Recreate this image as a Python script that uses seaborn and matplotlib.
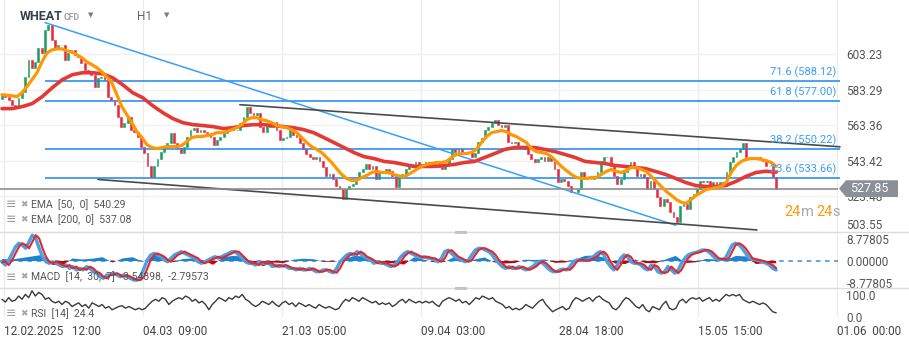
import numpy as np
import matplotlib
matplotlib.use("Agg")
import matplotlib.pyplot as plt
import matplotlib.transforms as mtrans
from matplotlib.patches import Polygon, Rectangle
from matplotlib.lines import Line2D
import seaborn as sns

sns.set_theme(style="white")
plt.rcParams['font.family'] = ['Roboto', 'DejaVu Sans']

# ---------------- data ----------------
close = [
    580.5, 579.4, 577.7, 574.9, 573.8, 578.8, 582.2, 590.5, 600.0, 595.6, 598.9, 606.7, 603.9, 616.8, 619.6,
    611.2, 606.7, 608.4, 608.4, 600.0, 603.9, 605.6, 602.8, 601.7, 598.4, 594.5, 593.3, 591.7, 585.0, 590.0,
    590.5, 588.9, 579.4, 577.7, 574.9, 568.2, 562.6, 564.8, 568.2, 560.9, 559.8, 557.0, 551.4, 548.1, 540.3,
    534.1, 540.3, 544.2, 548.6, 551.4, 553.7, 559.2, 553.7, 550.9, 548.1, 551.4, 557.0, 560.9, 562.0, 559.8,
    560.9,
    559.8, 559.2, 557.0, 552.5, 555.3, 557.0, 559.2, 562.6, 562.0, 560.9, 560.9, 564.8, 568.2, 573.8, 570.4,
    569.3, 570.4, 562.6, 559.8, 563.7, 562.6, 565.4, 560.9, 555.3, 556.5, 557.0, 562.0, 558.1, 557.0, 553.7,
    549.8, 547.0, 545.8, 544.2, 545.8, 543.1, 539.7, 534.7, 535.8, 533.0, 529.1, 527.4, 521.8, 527.4, 529.1,
    530.2, 533.0, 536.9, 538.6, 541.4, 538.6, 540.3, 533.0, 537.5, 536.9, 538.6, 537.5, 534.7, 528.5,
    534.1, 535.8, 538.6, 541.4, 540.3, 542.5, 539.7, 541.4, 542.5, 540.3, 542.5, 541.4, 539.7, 538.6, 541.4,
    544.2, 549.8, 548.6, 549.8, 548.6, 548.1, 548.6, 545.3, 548.1, 554.2, 556.5, 560.9, 562.6, 564.8, 566.5,
    563.7, 562.6, 563.7, 554.2, 553.7, 554.2, 550.9, 550.9, 549.8, 547.0, 544.2, 542.5, 544.2, 545.3, 543.1,
    545.8, 543.1, 538.6, 531.3, 533.0, 531.9, 529.1, 525.7, 525.7, 527.4, 536.9, 534.1, 533.0,
    533.0, 534.1, 536.9, 543.1, 545.8, 545.8, 540.3, 534.7, 530.2, 533.0, 536.9, 540.3, 542.5, 539.7, 534.7,
    535.8, 534.1, 527.4, 531.9, 527.4, 523.0, 517.9, 521.8, 520.2, 514.6, 511.8, 509.0, 517.9, 519.0, 516.2,
    523.0, 524.6, 527.4, 531.9, 531.3, 531.9, 529.1, 531.3, 530.2, 531.3, 529.1, 536.9, 542.5, 545.8, 548.6,
    549.8, 553.7, 545.8, 545.3, 544.2, 545.8, 544.2, 543.1, 540.3, 540.3, 534.1, 527.85,
]
first_open = 578.0

ema50 = [
    580.5, 580.2, 579.9, 579.4, 581.6, 585.0, 588.9, 592.8, 598.9, 603.9, 605.6, 606.2, 606.2, 605.1, 604.5,
    602.8, 601.2, 598.9, 597.3, 595.6, 593.3, 590.5, 587.2, 580.5, 573.8, 569.3, 564.8, 559.8, 556.5, 552.5,
    550.9, 550.3, 550.9, 551.4, 551.4, 551.4, 552.0, 554.2, 556.5, 557.0, 557.0, 557.6, 558.1, 559.2, 559.2,
    559.8, 560.9, 562.0, 563.7, 566.5, 567.6, 567.6, 566.5, 565.9, 564.8, 563.2, 562.6, 562.0, 560.9, 559.2,
    556.5, 553.7, 551.4, 549.8, 548.1, 545.3, 542.5, 539.1, 535.8, 533.6, 532.4, 532.4, 534.1, 535.2, 536.9,
    537.5, 536.9, 536.9, 536.3, 535.2, 534.7, 535.2, 536.9, 538.6, 540.3, 541.4, 541.9, 542.5, 542.5, 543.1,
    545.3, 547.0, 547.5, 547.5, 548.1, 549.8, 553.7, 557.0, 559.2, 559.8, 560.4, 559.8, 558.1, 557.0, 555.3,
    553.7, 550.3, 548.6, 548.1, 547.5, 545.8, 543.1, 540.3, 538.0, 535.8, 534.1, 533.6, 533.6, 534.1, 534.1,
    535.8, 537.5, 538.6, 537.5, 536.9, 538.0, 539.7, 539.7, 538.6, 537.5, 534.7, 531.9, 529.1, 526.3, 524.1,
    521.8, 520.2, 519.6, 521.8, 524.1, 525.7, 527.4, 527.9, 528.5, 529.1, 531.3, 536.9, 540.8, 543.1, 544.2,
    544.7, 544.7, 544.2, 543.6, 542.5, 540.29,
]

ema200 = [
    572.7, 572.7, 573.8, 575.5, 579.4, 584.4, 588.9, 591.7, 592.8, 592.8, 592.2, 590.0, 586.1, 581.6, 578.8,
    574.3, 570.4, 567.1, 564.8, 563.7, 563.2, 562.6, 561.5, 562.0, 563.2, 563.7, 563.7, 563.2, 562.6, 562.0,
    560.9, 559.2, 556.5, 553.7, 550.9, 548.1, 545.8, 544.7, 543.1, 542.5, 541.4, 540.3, 540.3, 540.3, 540.8,
    541.4, 542.5, 543.1, 545.3, 547.5, 549.8, 550.9, 550.9, 550.9, 549.8, 548.6, 547.0, 545.3, 543.1, 542.5,
    541.9, 540.8, 540.3, 539.7, 539.1, 537.5, 535.8, 533.6, 531.3, 529.6, 529.1, 529.1, 529.6, 531.9, 534.7,
    536.9, 537.6, 537.08,
]

macd_line = [
    -0.3, -1.6, 0.4, 3.0, 5.6, 7.0, 6.3, 5.0, 7.6, 10.2, 8.9, 5.0, 1.7, -0.3, -0.9, -0.3, -0.9, -1.6, -2.2, -1.6,
    -2.9, -2.2, -3.5, -2.9, -3.5, -2.2, -2.9, -4.2, -4.8, -6.2, -6.8, -5.5, -5.5, -4.8, -5.5, -6.2, -5.5, -6.2, -6.8, -7.5,
    -7.5, -6.2, -2.9, 0.4, 2.4, 3.0, 2.4, 1.7, 0.4, -0.3, 1.1, 2.4, 3.0, 3.7, 3.0, 2.4, 1.7, 1.1, -0.3, -0.9,
    -0.3, 0.4, 1.1, 1.7, 1.1, 1.7, 2.4, 3.0, 3.7, 3.7, 2.4, 1.1, -0.3, -0.9, -0.9, -1.6, -0.3, -0.9, -0.9, -0.9,
    -2.2, -1.6, -2.2, -1.6, -2.2, -2.9, -2.9, -3.5, -2.9, -3.5, -3.5, -2.9, -3.5, -4.2, -4.2, -3.5, -3.5, -4.2, -4.6, -2.9,
    -0.3, 1.1, 2.4, 3.0, 2.4, 3.7, 3.0, 1.7, 1.1, 0.4, -0.9, -0.3, -0.9, -0.9, -1.6, -2.2,
    -1.6, -0.3, 1.7, 3.0, 3.7, 3.0, 2.4, 1.7, 1.4, 1.7, 1.1, 1.1, 0.4, -0.3, 1.1, 3.7, 4.3, 3.0, 1.7, 1.1,
    0.4, -0.3, 0.4, 2.4, 4.3, 5.0, 5.0, 4.3, 3.7, 2.4, 0.4, -0.9, -2.2, -2.9, -2.2, -2.9, -2.9, -2.2, -2.9, -3.5,
    -2.9, -2.2, -0.9, -0.3, -0.9, -2.2, -3.5, -4.2, -4.2, -3.5, -3.2, -3.5, -2.2, -0.3, 0.4, 0.4, 0.1, 0.4, 1.1, 1.7,
    3.0, 3.7, 2.4, -0.3, -2.2, -3.5, -1.6, 1.1, 2.4, 1.7, -0.3, -0.9, -0.9, -1.6, -2.9, -3.5, -1.6, -2.2, -4.2, -4.8,
    -4.2, -2.2, -3.5, -4.8, -3.5, -0.9, 1.1, 2.4, 3.0, 3.3, 3.7, 4.3, 4.3, 3.7, 2.4, 1.1, 0.7, 0.7, 1.1, 3.7,
    6.3, 7.0, 6.3, 5.0, 3.0, 1.1, 0.7, 0.4, 0.1, -0.3, -0.9, -1.6, -2.9, -3.54,
]

macd_signal = [
    -0.5, -0.3, -1.6, 0.4, 3.0, 5.6, 7.0, 6.3, 5.0, 7.6, 10.2, 8.9, 5.0, 1.7, -0.3, -0.9, -0.3, -0.9, -1.6, -2.2,
    -1.6, -2.9, -2.2, -3.5, -2.9, -3.5, -2.2, -2.9, -4.2, -4.8, -6.2, -6.8, -5.5, -5.5, -4.8, -5.5, -6.2, -5.5, -6.2, -6.8,
    -7.5, -7.5, -6.2, -2.9, 0.4, 2.4, 3.0, 2.4, 1.7, 0.4, -0.3, 1.1, 2.4, 3.0, 3.7, 3.0, 2.4, 1.7, 1.1, -0.3,
    -0.9, -0.3, 0.4, 1.1, 1.7, 1.1, 1.7, 2.4, 3.0, 3.7, 3.7, 2.4, 1.1, -0.3, -0.9, -0.9, -1.6, -0.3, -0.9, -0.9,
    -0.9, -2.2, -1.6, -2.2, -1.6, -2.2, -2.9, -2.9, -3.5, -2.9, -3.5, -3.5, -2.9, -3.5, -4.2, -4.2, -3.5, -3.5, -4.2, -4.6,
    -2.9, -0.3, 1.1, 2.4, 3.0, 2.4, 3.7, 3.0, 1.7, 1.1, 0.4, -0.9, -0.3, -0.9, -0.9, -1.6,
    -2.2, -1.6, -0.3, 1.7, 3.0, 3.7, 3.0, 2.4, 1.7, 1.4, 1.7, 1.1, 1.1, 0.4, -0.3, 1.1, 3.7, 4.3, 3.0, 1.7,
    1.1, 0.4, -0.3, 0.4, 2.4, 4.3, 5.0, 5.0, 4.3, 3.7, 2.4, 0.4, -0.9, -2.2, -2.9, -2.2, -2.9, -2.9, -2.2, -2.9,
    -3.5, -2.9, -2.2, -0.9, -0.3, -0.9, -2.2, -3.5, -4.2, -4.2, -3.5, -3.2, -3.5, -2.2, -0.3, 0.4, 0.4, 0.1, 0.4, 1.1,
    1.7, 3.0, 3.7, 2.4, -0.3, -2.2, -3.5, -1.6, 1.1, 2.4, 1.7, -0.3, -0.9, -0.9, -1.6, -2.9, -3.5, -1.6, -2.2, -4.2,
    -4.8, -4.2, -2.2, -3.5, -4.8, -3.5, -0.9, 1.1, 2.4, 3.0, 3.3, 3.7, 4.3, 4.3, 3.7, 2.4, 1.1, 0.7, 0.7, 1.1,
    3.7, 6.3, 7.0, 6.3, 5.0, 3.0, 1.1, 0.7, 0.4, 0.1, -0.3, -0.9, -1.6, -2.80,
]

macd_hist = [
    0.8, 0.6, 1.2, 1.8, 2.4, -1.5, -1.8, 1.0, 0.6, 0.9, 1.5, -0.6, 1.0, 1.5, -0.3, 2.0, 2.3, -0.5, 0.8, 1.0,
    0.3, -1.5, 1.5, 2.0, 1.8, -0.8, -2.0, -0.6, -0.8, 0.5, 0.9, 0.7, -0.3, -0.3, 0.5, 2.0, 1.8, 0.5, -0.8, -0.9,
    -1.4, 1.5, 0.5, -0.5, -0.4, 1.6, -0.4, 0.6, 1.4, -0.6, -1.0, -0.8, 0.5, 0.4, 0.6, -0.7, -0.6, 0.6, 2.0, 2.2,
    1.2, -1.0, -1.2, 0.6, -0.8, -0.9, 0.6, 2.0, -0.8, -0.5, 0.8, 0.6, 0.3, 2.0, 1.8, -1.2, -0.8, -0.9,
]

rsi = [
    58, 51, 62, 53, 56, 66, 58, 70, 62, 79, 66, 75, 70, 58, 62, 53, 49, 53, 45, 53,
    49, 40, 45, 49, 40, 45, 36, 49, 45, 40, 45, 36, 40, 32, 36, 40, 42, 36, 40, 36,
    32, 36, 32, 36, 45, 53, 58, 53, 62, 58, 45, 53, 58, 62, 58, 66, 62, 53, 58, 49,
    53, 45, 32, 45, 53, 62, 58, 53, 62, 58, 66, 62, 70, 58, 53, 45, 40, 45, 53, 49,
    45, 53, 45, 40, 49, 53, 45, 49, 40, 49, 45, 40, 45, 40, 36, 45, 40, 36, 40, 36,
    32, 36, 49, 58, 53, 62, 58, 53, 62, 58, 53, 49, 53, 45, 49, 45, 49, 40, 45,
    53, 58, 49, 58, 53, 49, 53, 49, 53, 49, 53, 45, 40, 53, 58, 62, 58, 53, 58, 49,
    53, 45, 53, 62, 58, 66, 62, 58, 62, 53, 49, 45, 36, 40, 32, 36, 32, 36, 45, 40,
    36, 45, 53, 58, 45, 36, 27, 32, 36, 40, 32, 36, 53, 62, 58, 53, 58, 62, 53, 62,
    66, 58, 53, 49, 36, 32, 40, 53, 62, 58, 49, 40, 36, 45, 32, 27, 40, 36, 32, 45,
    53, 36, 32, 36, 53, 58, 49, 58, 62, 58, 62, 53, 58, 62, 53, 58, 53, 62, 70, 66,
    70, 66, 70, 58, 53, 49, 53, 49, 45, 49, 45, 36, 27, 24.4,
]

fib_levels = [588.12, 577.00, 550.22, 533.66]
fib_labels = ["71.6 (588.12)", "61.8 (577.00)", "38.2 (550.22)", "23.6 (533.66)"]
price_ticks = [603.23, 583.29, 563.36, 543.42, 523.48, 503.55]
macd_ticks = [8.77805, 0.0, -8.77805]
time_labels = ["12.02.2025   12:00", "04.03  09:00", "21.03  05:00", "09.04  03:00",
               "28.04  18:00", "15.05  15:00", "01.06  00:00"]
last_price = 527.85
ema50_last, ema200_last = 540.29, 537.08
macd_last = (-3.54398, -2.79573)
rsi_last = 24.4
# drawn trend lines: (bar index, price)
trend_blue = [(13.0, 620.9), (203.7, 507.3)]
channel_top = [(71.9, 574.9), (253.3, 551.3)]
channel_bottom = [(29.0, 533.0), (228.2, 504.7)]
fib_start_bar = 13.0

# ---------------- layout ----------------
W, H = 909, 346
fig = plt.figure(figsize=(W / 100, H / 100), dpi=100)
fig.patch.set_facecolor("white")


def rect(x0, y0, x1, y1):
    return [x0 / W, 1 - y1 / H, (x1 - x0) / W, (y1 - y0) / H]


ax = fig.add_axes(rect(0, 0, 838, 232))
axm = fig.add_axes(rect(0, 232, 838, 288), sharex=ax)
axr = fig.add_axes(rect(0, 288, 838, 317), sharex=ax)

N = len(close)
xb = np.arange(N)
bar_step = 41.97
tick_pos = 0.6 + bar_step * np.arange(len(time_labels))
XMIN, XMAX = -0.6, 252.7

TXT = "#555555"
GRID = "#ececec"

for a in (ax, axm, axr):
    a.set_facecolor("white")
    for s in a.spines.values():
        s.set_visible(False)
    for t in tick_pos:
        a.axvline(t, color=GRID, lw=1.0, zorder=0)
    a.tick_params(axis="both", length=0)

# ---------------- main price panel ----------------
ax.set_ylim(503.94, 633.56)
ax.set_xlim(XMIN, XMAX)
for p in price_ticks:
    ax.axhline(p, color="#f1f1f1", lw=1.0, zorder=0)

opens = np.array([first_open] + close[:-1])
closes = np.array(close)
up = closes >= opens
lo = np.minimum(opens, closes)
hi = np.maximum(opens, closes)
cols = np.where(up, "#1e9e64", "#e8293f")
ax.bar(xb, hi - lo, bottom=lo, width=0.55, color=cols, edgecolor=cols, linewidth=0.4, zorder=2)

# fib retracement lines
for lvl, lab in zip(fib_levels, fib_labels):
    ax.hlines(lvl, fib_start_bar, 253.3, color="#1a86ee", lw=1.1, zorder=3, clip_on=False)
    ax.annotate(lab, xy=(252.2, lvl), xytext=(0, 2.2), textcoords="offset points",
                ha="right", va="bottom", fontsize=8, color="#3c9cf0", zorder=6)

# trend lines
ax.add_line(Line2D([trend_blue[0][0], trend_blue[1][0]], [trend_blue[0][1], trend_blue[1][1]],
                   color="#3a9ff5", lw=1.1, zorder=3))
ax.add_line(Line2D([channel_top[0][0], channel_top[1][0]], [channel_top[0][1], channel_top[1][1]],
                   color="#4a4a4a", lw=1.2, zorder=3, clip_on=False))
ax.add_line(Line2D([channel_bottom[0][0], channel_bottom[1][0]], [channel_bottom[0][1], channel_bottom[1][1]],
                   color="#4a4a4a", lw=1.2, zorder=3))

# current price line
ax.axhline(last_price, color="#8e8e8e", lw=1.2, zorder=3)

# EMAs via seaborn
sns.lineplot(x=np.linspace(0, N - 1, len(ema200)), y=ema200, ax=ax, color="#e53935", lw=2.6, zorder=4)
sns.lineplot(x=np.linspace(0, N - 1, len(ema50)), y=ema50, ax=ax, color="#ff9800", lw=2.3, zorder=5)

ax.yaxis.tick_right()
ax.set_yticks(price_ticks)
ax.set_yticklabels([f"{p:.2f}" for p in price_ticks], fontsize=8.5, color=TXT)
ax.tick_params(axis="y", pad=6)
ax.tick_params(axis="x", labelbottom=False)
ax.set_xlabel("")
ax.set_ylabel("")
# bottom price label is kept inside the panel (as in the reference)
ax.get_yticklabels()[-1].set_verticalalignment("bottom")

# price box (last price)
bt = mtrans.blended_transform_factory(fig.transFigure, ax.transData)
hh = 4.7
box = Polygon([(839 / W, last_price), (846 / W, last_price + hh), (898 / W, last_price + hh),
               (898 / W, last_price - hh), (846 / W, last_price - hh)],
              closed=True, facecolor="#8a9095", edgecolor="none", transform=bt, zorder=20)
fig.add_artist(box)
fig.text(869 / W, 0, f"{last_price:.2f}", transform=bt, fontsize=9, color="white",
         ha="center", va="center", zorder=21).set_y(last_price)

# countdown text
for xp, s, c in [(784, "24", "#ff9800"), (800.5, "m", "#a8a8a8"), (816.5, "24", "#ff9800"), (832.5, "s", "#a8a8a8")]:
    fig.text(xp / W, 1 - 212 / H, s, fontsize=10.5, color=c, ha="left", va="center")

# header
fig.text(20 / W, 1 - 16 / H, "WHEAT", fontsize=9, fontweight="bold", color="#37414b", va="center")
fig.text(64 / W, 1 - 17 / H, "CFD", fontsize=6.3, fontweight="bold", color="#a0a0a0", va="center")
fig.text(88 / W, 1 - 16 / H, "\u25BC", fontsize=5, color="#7a7a7a", va="center")
fig.text(137 / W, 1 - 17 / H, "H1", fontsize=8.5, color="#666666", va="center")
fig.text(164 / W, 1 - 16 / H, "\u25BC", fontsize=5, color="#7a7a7a", va="center")

# legend rows
def legend_row(y, text):
    fig.text(6 / W, 1 - y / H, "\u2261", fontsize=9, color="#9c9c9c", va="center", family=["DejaVu Sans"])
    fig.text(20 / W, 1 - y / H, "\u2716", fontsize=6.5, color="#a6a6a6", va="center", family=["DejaVu Sans"])
    fig.text(31 / W, 1 - y / H, text, fontsize=7.5, color=TXT, va="center")


legend_row(205, f"EMA  [50,  0]  {ema50_last:.2f}")
legend_row(219.5, f"EMA  [200,  0]  {ema200_last:.2f}")

# ---------------- MACD panel ----------------
axm.set_ylim(-10.63, 11.42)
xh = np.linspace(0, N - 1, len(macd_hist))
hist = np.array(macd_hist)
axm.axhline(0, color="#3a8bd6", lw=1.1, ls=(0, (3, 3)), zorder=1)
axm.fill_between(xh, 0, hist, where=hist >= 0, interpolate=True, color="#1f82cf", lw=0, zorder=2)
axm.fill_between(xh, 0, hist, where=hist < 0, interpolate=True, color="#cc0000", lw=0, zorder=2)
xm = np.linspace(0, N - 1, len(macd_line))
sns.lineplot(x=xm, y=macd_line, ax=axm, color="#4aa0e6", lw=2.4, zorder=3)
xs = np.linspace(0, N - 1, len(macd_signal))
sns.lineplot(x=xs, y=macd_signal, ax=axm, color="#e0282d", lw=1.5, zorder=4)
axm.yaxis.tick_right()
axm.set_yticks(macd_ticks)
axm.set_yticklabels([f"{v:.5f}" for v in macd_ticks], fontsize=8.5, color=TXT)
axm.tick_params(axis="y", pad=6)
axm.tick_params(axis="x", labelbottom=False)
axm.set_xlabel("")
axm.set_ylabel("")
legend_row(277, f"MACD  [14,  30,  7]  {macd_last[0]:.5f},  {macd_last[1]:.5f}")

# handles on panel tops
for yy in (232, 288):
    fig.add_artist(Rectangle((455 / W, 1 - (yy + 1.5) / H), 12 / W, 3 / H,
                             transform=fig.transFigure, facecolor="#c4c4c4", edgecolor="none", zorder=15))

# ---------------- RSI panel ----------------
axr.set_ylim(14.1, 85.9)
xr = np.linspace(0, N - 1, len(rsi))
sns.lineplot(x=xr, y=rsi, ax=axr, color="#3a3a3a", lw=1.0, zorder=3)
axr.set_yticks([])
axr.set_ylabel("")
axr.text(846 / 838, (317 - 296) / 29, "100.0", transform=axr.transAxes, fontsize=8.5, color=TXT, va="center")
axr.text(846 / 838, (317 - 318) / 29, "0.0", transform=axr.transAxes, fontsize=8.5, color=TXT, va="center")
legend_row(313.5, f"RSI  [14]  {rsi_last}")

axr.set_xticks(tick_pos)
axr.set_xticklabels(time_labels, fontsize=8.5, color="#444444", ha="left")
axr.tick_params(axis="x", pad=6)
for lbl in axr.get_xticklabels():
    lbl.set_horizontalalignment("left")
axr.set_xlim(XMIN, XMAX)
axr.set_xlabel("")

# panel separators
for yy in (232, 288):
    fig.add_artist(Line2D([0, 1], [1 - yy / H, 1 - yy / H], transform=fig.transFigure,
                          color="#dcdcdc", lw=1.0, zorder=14))

fig.savefig("out.png", dpi=100, facecolor="white")
